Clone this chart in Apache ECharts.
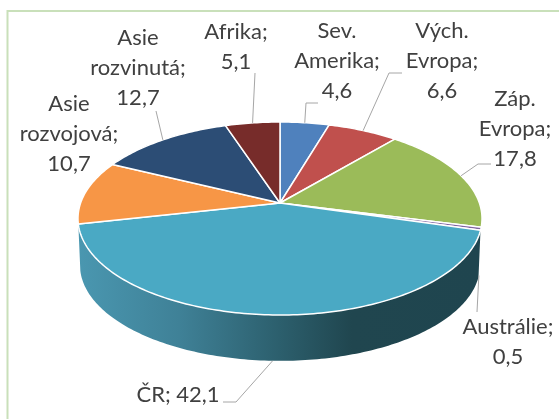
<!DOCTYPE html>
<html>
<head>
<meta charset="utf-8">
<style>
  html, body { margin: 0; padding: 0; background: #fff; }
  #chart { width: 559px; height: 419px; }
</style>
<script src="https://cdn.jsdelivr.net/npm/echarts@6/dist/echarts.min.js"></script>
</head>
<body>
<div id="chart"></div>
<script>
// clockwise from 12 o'clock
var categories = ['Sev. Amerika', 'Vých. Evropa', 'Záp. Evropa', 'Austrálie', 'ČR', 'Asie rozvojová', 'Asie rozvinutá', 'Afrika']
var values = [4.6, 6.6, 17.8, 0.5, 42.1, 10.7, 12.7, 5.1]
var colors = ['#4f81bd', '#c0504d', '#9bbb59', '#8064a2', '#4aa9c4', '#f79646', '#2c4d75', '#772c2a']

// label centre + leader line elbows, same order as categories
var labelPos = [[337, 61], [442, 61], [515, 129], [508, 342], [178, 395], [69, 134], [138, 68], [236, 47]]
var leaders = [
  [[306, 103], [318, 103]],
  [[389, 73], [402, 73]],
  [[478, 164], [491, 164]],
  [[477, 312]],
  [[236, 402], [223, 402]],
  [],
  [[156, 111]],
  [[255, 73]]
]
// leader starts on the lower rim for these two
var lowerRim = ['Austrálie', 'ČR']
var wallSlice = 'ČR'

// perspective disc
var CX = 280, CY = 203, A = 199.4, B = 94, K = 0.1606
var DEPTH = 47, LOWER_SCALE = 0.99

var total = values.reduce(function (s, v) { return s + v }, 0)

function project (deg, depth) {
  var r = deg * Math.PI / 180
  var u = Math.sin(r), v = Math.cos(r), w = 1 + K * v
  var s = depth ? LOWER_SCALE : 1
  return [CX + s * A * u / w, CY - s * B * v / w + (depth || 0)]
}

function arc (from, to, depth) {
  var pts = []
  var n = Math.max(2, Math.ceil(Math.abs(to - from)))
  for (var i = 0; i <= n; i++) {
    pts.push(project(from + (to - from) * i / n, depth))
  }
  return pts
}

var rows = []
var sum = 0
values.forEach(function (v, i) {
  rows.push([i, sum / total * 360, (sum + v) / total * 360])
  sum += v
})

function labelText (i) {
  var name = categories[i]
  var val = String(values[i]).replace('.', ',')
  return name.replace(' ', '\n') + ';' + (name === 'ČR' ? ' ' : '\n') + val
}

function renderWall (params, api) {
  var i = api.value(0)
  if (categories[i] !== wallSlice) return null
  var a0 = api.value(1), a1 = api.value(2)
  return {
    type: 'polygon',
    shape: { points: arc(a0, a1, 0).concat(arc(a1, a0, DEPTH)) },
    style: {
      fill: {
        type: 'linear', x: 0, y: 0, x2: 1, y2: 0,
        colorStops: [
          { offset: 0, color: '#4a97b0' },
          { offset: 0.25, color: '#3f8197' },
          { offset: 0.5, color: '#2c5f6d' },
          { offset: 0.68, color: '#20464f' },
          { offset: 1, color: '#1f454f' }
        ]
      }
    }
  }
}

function renderSlice (params, api) {
  var i = api.value(0)
  return {
    type: 'polygon',
    shape: { points: [[CX, CY]].concat(arc(api.value(1), api.value(2), 0)) },
    style: { fill: colors[i], stroke: '#fff', lineWidth: 1.5, lineJoin: 'round' }
  }
}

function renderLabel (params, api) {
  var i = api.value(0)
  var mid = (api.value(1) + api.value(2)) / 2
  var start = project(mid, lowerRim.indexOf(categories[i]) >= 0 ? DEPTH : 0)
  var children = []
  if (leaders[i].length) {
    children.push({
      type: 'polyline',
      shape: { points: [start].concat(leaders[i]) },
      style: { fill: null, stroke: '#a6a6a6', lineWidth: 1 }
    })
  }
  children.push({
    type: 'text',
    style: {
      text: labelText(i),
      x: labelPos[i][0],
      y: labelPos[i][1],
      fill: '#404040',
      font: '22px Lato',
      lineHeight: 30,
      align: 'center',
      verticalAlign: 'middle'
    }
  })
  return { type: 'group', children: children }
}

var chart = echarts.init(document.getElementById('chart'), null, { renderer: 'canvas' })
chart.setOption({
  animation: false,
  backgroundColor: '#fff',
  graphic: [
    { type: 'polyline', shape: { points: [[7.5, 419], [7.5, 11], [559, 11]] }, style: { fill: null, stroke: '#c9e0ba', lineWidth: 2 } }
  ],
  series: [
    { type: 'custom', coordinateSystem: 'none', data: rows, renderItem: renderWall, z: 1, silent: true },
    { type: 'custom', coordinateSystem: 'none', data: rows, renderItem: renderSlice, z: 2, silent: true },
    { type: 'custom', coordinateSystem: 'none', data: rows, renderItem: renderLabel, z: 3, silent: true }
  ]
})
</script>
</body>
</html>
